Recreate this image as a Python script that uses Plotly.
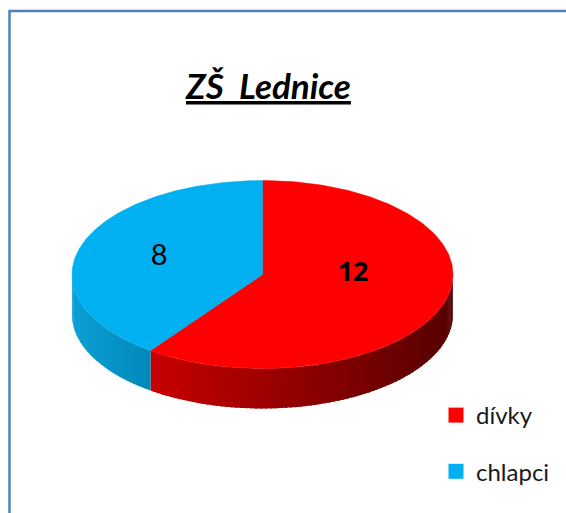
import numpy as np
import plotly.graph_objects as go

# ---- data ----
categories = ["dívky", "chlapci"]
values = [12, 8]

# ---- styles ----
top_colors = ["#FF0000", "#00B0F0"]
side_left = [(200, 0, 0), (12, 160, 212)]
side_right = [(85, 0, 0), (0, 136, 184)]
label_frac = [0.5, 0.57]
label_dy = [-15, 0]
label_bold = [True, False]
label_size = [27, 29]
title_text = "ZŠ\u00a0 Lednice"
FONT = "Lato"

W, H = 566, 513
cx, cy, rx, ry, depth = 262.5, 274.5, 190.5, 94.0, 40.0


def pt(theta_deg, dy=0.0, f=1.0):
    t = np.radians(theta_deg)
    return cx + f * rx * np.sin(t), cy - f * ry * np.cos(t) + dy


fig = go.Figure()
total = float(sum(values))
bounds = []
a = 0.0
for v in values:
    b = a + 360.0 * v / total
    bounds.append((a, b))
    a = b

# side walls (front half only: 90..270 deg clockwise from top)
for i, (a0, a1) in enumerate(bounds):
    s0, s1 = max(a0, 90.0), min(a1, 270.0)
    if s1 <= s0:
        continue
    xa, _ = pt(s0)
    xb, _ = pt(s1)
    xmin, xmax = min(xa, xb), max(xa, xb)
    n = max(2, int((s1 - s0) / 1.5))
    edges = np.linspace(s0, s1, n + 1)
    for k in range(n):
        ta, tb = edges[k], min(edges[k + 1] + 0.8, s1)
        th = np.linspace(ta, tb, 4)
        xs_top, ys_top = pt(th)
        xs_bot, ys_bot = pt(th[::-1], dy=depth)
        xm = 0.5 * (xs_top[0] + xs_top[-1])
        t = (xm - xmin) / (xmax - xmin) if xmax > xmin else 0.0
        c = tuple(int(round(side_left[i][j] + (side_right[i][j] - side_left[i][j]) * t)) for j in range(3))
        col = "rgb(%d,%d,%d)" % c
        fig.add_trace(go.Scatter(
            x=np.concatenate([xs_top, xs_bot]), y=np.concatenate([ys_top, ys_bot]),
            mode="lines", fill="toself", fillcolor=col,
            line=dict(width=0), hoverinfo="skip", showlegend=False))

# top faces
for i, (a0, a1) in enumerate(bounds):
    th = np.linspace(a0, a1, 200)
    xs, ys = pt(th)
    fig.add_trace(go.Scatter(
        x=np.concatenate([[cx], xs, [cx]]), y=np.concatenate([[cy], ys, [cy]]),
        mode="lines", fill="toself", fillcolor=top_colors[i],
        line=dict(color=top_colors[i], width=0.5), hoverinfo="skip", showlegend=False))

# data labels
for i, (a0, a1) in enumerate(bounds):
    mid = 0.5 * (a0 + a1)
    lx, ly = pt(mid, dy=label_dy[i], f=label_frac[i])
    txt = str(values[i])
    fam = FONT
    if label_bold[i]:
        txt = "<b>%s</b>" % txt
        fam = "Noto Sans"
    fig.add_trace(go.Scatter(
        x=[lx], y=[ly], mode="text", text=[txt],
        textfont=dict(family=fam, size=label_size[i], color="#000000"),
        hoverinfo="skip", showlegend=False))

# legend entries
for i, name in enumerate(categories):
    fig.add_trace(go.Scatter(
        x=[None], y=[None], mode="markers", name=name, legendgroup=name,
        marker=dict(symbol="square", size=15, color=top_colors[i])))

fig.update_layout(
    width=W, height=H,
    margin=dict(l=0, r=0, t=0, b=0),
    paper_bgcolor="white", plot_bgcolor="white",
    xaxis=dict(range=[0, W], visible=False, fixedrange=True),
    yaxis=dict(range=[H, 0], visible=False, fixedrange=True),
    showlegend=True,
    legend=dict(x=436 / W, y=1 - 393 / H, xanchor="left", yanchor="top",
                font=dict(family=FONT, size=24, color="#1a1a1a"),
                tracegroupgap=22, traceorder="grouped", bgcolor="rgba(0,0,0,0)"),
    shapes=[dict(type="rect", xref="x", yref="y", x0=9.5, y0=11, x1=640, y1=640,
                 line=dict(color="#4F81BD", width=2.5), fillcolor="rgba(0,0,0,0)")],
    annotations=[dict(x=268, y=85, xref="x", yref="y", showarrow=False,
                      text="<b><i><u>%s</u></i></b>" % title_text,
                      font=dict(family=FONT, size=35, color="#000000"))],
)

fig.write_html("out.html", config={"displayModeBar": False},
               post_script="document.body.style.margin='0';document.body.style.overflow='hidden';")
